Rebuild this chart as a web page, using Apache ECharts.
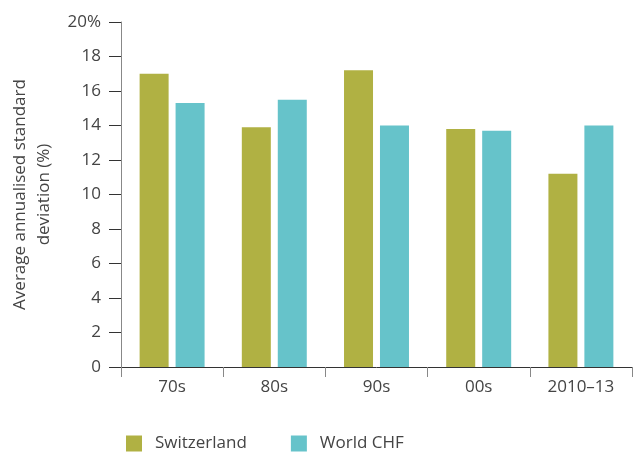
<!DOCTYPE html>
<html>
<head>
<meta charset="utf-8">
<script src="https://cdn.jsdelivr.net/npm/echarts@6/dist/echarts.min.js"></script>
<style>
  html, body { margin: 0; padding: 0; background: #fff; }
  #chart { width: 638px; height: 453px; }
</style>
</head>
<body>
<div id="chart"></div>
<script>
// data
var periods = ['70s', '80s', '90s', '00s', '2010\u201313'];
var switzerland = [17.0, 13.9, 17.2, 13.8, 11.2];
var worldChf = [15.3, 15.5, 14.0, 13.7, 14.0];

var mychart = echarts.init(document.getElementById('chart'));
var option = {
    color: ['#b0b143', '#66c3ca'],
    textStyle: { fontFamily: 'Open Sans' },
    legend: {
        left: 121,
        top: 430,
        itemWidth: 16,
        itemHeight: 16,
        itemGap: 44,
        icon: 'rect',
        textStyle: { fontSize: 17, color: '#444', padding: [0, 0, 0, 8] },
        data: ['Switzerland', 'World CHF']
    },
    grid: {
        left: 121,
        right: 6,
        top: 22,
        bottom: 86,
        containLabel: false,
        outerBoundsMode: 'none'
    },
    xAxis: {
        type: 'category',
        data: periods,
        axisLine: { lineStyle: { color: '#333', width: 1 } },
        axisTick: { show: true, length: 10, lineStyle: { color: '#888' } },
        axisLabel: { fontSize: 17, color: '#444', margin: 12 }
    },
    yAxis: {
        type: 'value',
        min: 0,
        max: 20,
        interval: 2,
        name: 'Average annualised standard\ndeviation (%)',
        nameLocation: 'middle',
        nameRotate: 90,
        nameGap: 63,
        nameTextStyle: { fontSize: 17, color: '#444', lineHeight: 24 },
        axisLine: { show: true, lineStyle: { color: '#888' } },
        axisTick: { show: true, length: 12, lineStyle: { color: '#333' } },
        axisLabel: {
            fontSize: 17,
            color: '#444',
            margin: 20,
            formatter: function (v) { return v === 20 ? '20%' : v; }
        },
        splitLine: { show: false }
    },
    series: [
        {
            name: 'Switzerland',
            type: 'bar',
            data: switzerland,
            barWidth: 29,
            barGap: '24%'
        },
        {
            name: 'World CHF',
            type: 'bar',
            data: worldChf,
            barWidth: 29,
            barGap: '24%'
        }
    ]
};
mychart.setOption(option);
</script>
</body>
</html>
